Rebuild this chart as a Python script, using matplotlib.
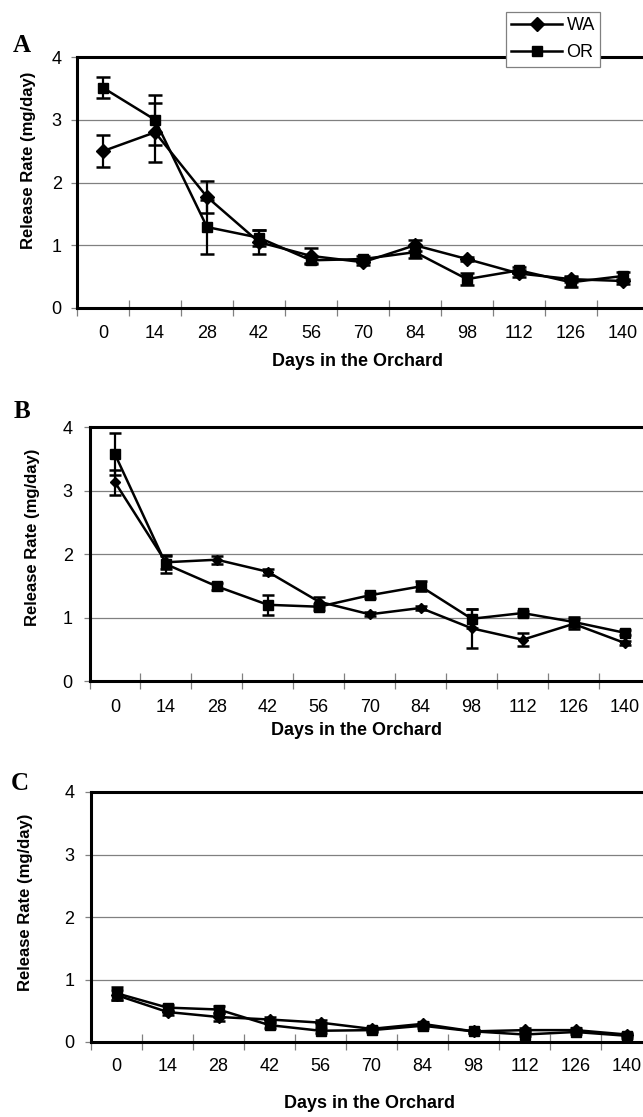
import matplotlib
matplotlib.use("Agg")
import matplotlib.pyplot as plt
from matplotlib.lines import Line2D
import numpy as np

# ---------------- data ----------------
days = [0, 14, 28, 42, 56, 70, 84, 98, 112, 126, 140]
series_names = ["WA", "OR"]

A_wa = [2.50, 2.80, 1.77, 1.05, 0.83, 0.73, 1.00, 0.78, 0.55, 0.46, 0.43]
A_wa_err = [0.26, 0.47, 0.26, 0.19, 0.12, 0.04, 0.09, 0.03, 0.05, 0.05, 0.04]
A_or = [3.51, 3.00, 1.29, 1.12, 0.76, 0.78, 0.89, 0.46, 0.60, 0.41, 0.51]
A_or_err = [0.17, 0.40, 0.43, 0.13, 0.06, 0.05, 0.10, 0.09, 0.05, 0.08, 0.06]

B_wa = [3.13, 1.87, 1.91, 1.72, 1.25, 1.05, 1.15, 0.83, 0.65, 0.90, 0.60]
B_wa_err = [0.20, 0.10, 0.06, 0.05, 0.08, 0.03, 0.03, 0.31, 0.10, 0.08, 0.03]
B_or = [3.57, 1.84, 1.49, 1.20, 1.17, 1.35, 1.49, 0.98, 1.07, 0.93, 0.76]
B_or_err = [0.33, 0.14, 0.05, 0.16, 0.05, 0.04, 0.08, 0.15, 0.04, 0.08, 0.04]

C_wa = [0.75, 0.48, 0.40, 0.36, 0.31, 0.21, 0.29, 0.17, 0.19, 0.19, 0.12]
C_wa_err = [0.08, 0.04, 0.07, 0.04, 0.04, 0.03, 0.03, 0.03, 0.03, 0.03, 0.03]
C_or = [0.78, 0.55, 0.52, 0.27, 0.18, 0.19, 0.26, 0.17, 0.12, 0.16, 0.10]
C_or_err = [0.10, 0.05, 0.05, 0.04, 0.04, 0.03, 0.03, 0.03, 0.03, 0.03, 0.03]

panel_letters = ["A", "B", "C"]
y_ticks = [0, 1, 2, 3, 4]
xlabel_text = "Days in the Orchard"
ylabel_text = "Release Rate (mg/day)"

# ---------------- layout ----------------
W, H = 643, 1117
fig = plt.figure(figsize=(W / 100, H / 100), dpi=100)
plt.rcParams["font.family"] = ["Liberation Sans", "DejaVu Sans"]

def px_axes(left, right, top, bottom):
    return [left / W, 1 - bottom / H, (right - left) / W, (bottom - top) / H]

panels = [
    dict(rect=px_axes(77, 649, 57, 308), wa=A_wa, wae=A_wa_err, orr=A_or, ore=A_or_err,
         dms=7.5, sms=7, cap=5.2, xpad=12, ypad=7,
         xlab=(0.491, -0.179), ylab=(-0.072, 0.59), letter=(22, 45)),
    dict(rect=px_axes(89.5, 650, 427, 681), wa=B_wa, wae=B_wa_err, orr=B_or, ore=B_or_err,
         dms=5.5, sms=6.5, cap=4.5, xpad=13, ypad=8,
         xlab=(0.477, -0.161), ylab=(-0.088, 0.567), letter=(22, 412)),
    dict(rect=px_axes(91, 652, 792, 1042), wa=C_wa, wae=C_wa_err, orr=C_or, ore=C_or_err,
         dms=6, sms=6.5, cap=4.5, xpad=11.5, ypad=8,
         xlab=(0.497, -0.212), ylab=(-0.103, 0.56), letter=(20, 783)),
]

x = np.arange(len(days))
legend_handles = None
for i, p in enumerate(panels):
    ax = fig.add_axes(p["rect"])
    ax.set_xlim(-0.5, len(days) - 0.5)
    ax.set_ylim(0, 4)

    ax.errorbar(x, p["wa"], yerr=p["wae"], color="black", lw=1.8, marker="D",
                ms=p["dms"], mfc="black", mec="black", capsize=p["cap"],
                capthick=1.8, elinewidth=1.6, zorder=3)
    ax.errorbar(x, p["orr"], yerr=p["ore"], color="black", lw=1.8, marker="s",
                ms=p["sms"], mfc="black", mec="black", capsize=p["cap"],
                capthick=1.8, elinewidth=1.6, zorder=3)

    # grid
    ax.set_yticks(y_ticks)
    ax.yaxis.grid(True, color="#808080", lw=0.9)
    ax.set_axisbelow(True)

    # spines
    for s in ["left", "bottom", "top"]:
        ax.spines[s].set_linewidth(2.2)
        ax.spines[s].set_color("black")
    ax.spines["right"].set_visible(False)

    # x ticks at category boundaries, labels at category centers
    ax.set_xticks(np.arange(-0.5, len(days) + 0.5, 1.0))
    ax.set_xticklabels([])
    ax.tick_params(axis="x", which="major", direction="inout", length=11,
                   width=0.9, color="#808080")
    ax.set_xticks(x, minor=True)
    ax.set_xticklabels([str(d) for d in days], minor=True)
    ax.tick_params(axis="x", which="minor", length=0, pad=p["xpad"], labelsize=13)

    ax.tick_params(axis="y", direction="out", length=4, width=0.9,
                   color="#808080", pad=p["ypad"], labelsize=13)

    ax.set_xlabel(xlabel_text, fontsize=13, fontweight="bold")
    ax.xaxis.set_label_coords(*p["xlab"])
    ax.set_ylabel(ylabel_text, fontsize=12, fontweight="bold")
    ax.yaxis.set_label_coords(*p["ylab"])

    lx, ly = p["letter"]
    fig.text(lx / W, 1 - ly / H, panel_letters[i], fontsize=18, fontweight="bold",
             family=["Liberation Serif", "DejaVu Serif"], ha="center", va="center")

    if i == 0:
        legend_handles = [
            Line2D([], [], color="black", lw=1.8, marker="D", ms=p["dms"]),
            Line2D([], [], color="black", lw=1.8, marker="s", ms=p["sms"]),
        ]

leg = fig.legend(legend_handles, series_names, loc="upper left",
                 bbox_to_anchor=(506 / W, 1 - 12 / H), frameon=True, fancybox=False,
                 edgecolor="#808080", framealpha=1, fontsize=13, handlelength=2.8,
                 handletextpad=0.25, borderpad=0.3, labelspacing=0.55,
                 borderaxespad=0)
leg.get_frame().set_linewidth(0.9)
leg.set_zorder(10)

fig.savefig("out.png", dpi=100)
